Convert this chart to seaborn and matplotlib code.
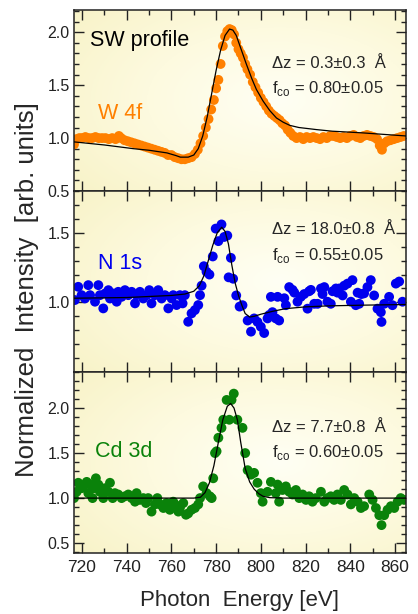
import numpy as np
import pandas as pd
import matplotlib
matplotlib.use("Agg")
import matplotlib.pyplot as plt
import seaborn as sns
from matplotlib.colors import LinearSegmentedColormap
from matplotlib.ticker import MultipleLocator, FixedLocator

# W 4f data (orange)
w4f_e = [716.4, 717.5, 718.8, 720.0, 721.5, 723.0, 724.5, 726.0, 727.5, 729.0,
         730.5, 732.0, 733.5, 735.0, 736.5, 737.5, 739.0, 740.5, 742.0, 743.5,
         745.0, 746.5, 748.0, 749.5, 751.0, 752.5, 754.0, 755.5, 757.0, 758.5,
         760.0, 761.5, 763.0, 764.5, 766.0, 767.5, 769.0, 770.5, 771.8, 773.0,
         774.2, 775.4, 776.6, 777.8, 779.0, 780.0, 781.0, 782.0, 783.0, 784.0,
         785.0, 786.0, 787.0, 788.0, 789.0, 790.0, 791.0, 792.0, 793.0, 794.0,
         795.2, 796.4, 797.6, 798.8, 800.0, 801.2, 802.4, 803.6, 804.8, 806.0,
         807.2, 808.4, 809.6, 810.8, 812.0, 813.2, 814.5, 816.0, 817.5, 819.0,
         820.5, 822.0, 823.5, 825.0, 826.5, 828.0, 829.5, 831.0, 832.5, 834.0,
         835.5, 837.0, 838.5, 840.0, 841.5, 843.0, 844.5, 846.0, 847.5, 849.0,
         850.5, 852.0, 853.2, 854.2, 855.2, 856.5, 858.0, 859.5, 861.0, 862.5,
         864.0]
w4f_i = [0.94, 0.99, 1.00, 1.00, 1.01, 1.00, 1.00, 1.01, 1.00, 1.00,
         1.00, 0.99, 1.00, 0.99, 1.02, 1.00, 0.98, 0.97, 0.96, 0.95,
         0.94, 0.93, 0.92, 0.91, 0.90, 0.89, 0.88, 0.87, 0.86, 0.84,
         0.84, 0.82, 0.81, 0.80, 0.80, 0.81, 0.82, 0.85, 0.89, 0.95,
         1.02, 1.10, 1.18, 1.27, 1.36, 1.47, 1.55, 1.70, 1.87, 1.96,
         2.01, 2.03, 2.02, 1.98, 1.90, 1.84, 1.80, 1.76, 1.70, 1.65,
         1.60, 1.53, 1.48, 1.43, 1.38, 1.34, 1.30, 1.26, 1.23, 1.21,
         1.19, 1.17, 1.14, 1.12, 1.08, 1.05, 1.02, 1.00, 1.01, 0.99,
         1.01, 1.00, 1.01, 1.00, 0.99, 1.01, 1.00, 1.02, 1.02, 1.01,
         1.00, 1.01, 1.00, 1.02, 1.03, 1.01, 1.00, 1.02, 1.03, 1.02,
         1.01, 0.99, 0.93, 0.89, 0.95, 0.97, 0.98, 0.99, 1.00, 1.01,
         1.02]
w4f_fit_e = [716, 730, 743, 750, 758, 762, 764, 767.5, 770, 772, 774, 776, 778,
             780, 782, 784, 786, 787.5, 789, 791, 793.5, 796, 798, 801, 804,
             807, 810, 813, 817, 825, 832, 845, 865]
w4f_fit_i = [0.965, 0.935, 0.90, 0.885, 0.86, 0.835, 0.82, 0.82, 0.84, 0.90,
             1.02, 1.20, 1.42, 1.64, 1.83, 1.97, 2.03, 2.02, 1.97, 1.85, 1.70,
             1.56, 1.46, 1.35, 1.26, 1.19, 1.15, 1.12, 1.10, 1.08, 1.065,
             1.05, 1.02]

# N 1s data (blue)
n1s_e = [716.8, 718.3, 719.8, 721.3, 722.8, 723.6, 725.8, 727.3, 728.0, 729.5,
         730.3, 731.8, 732.5, 734.0, 735.5, 736.2, 737.7, 739.2, 740.7, 742.2,
         743.7, 744.4, 745.9, 747.4, 748.9, 750.1, 751.1, 752.6, 754.1, 755.6,
         757.1, 758.6, 760.1, 760.8, 762.3, 763.8, 765.0, 766.0, 767.5, 769.0,
         770.5, 772.0, 772.8, 773.5, 774.5, 775.7, 777.0, 778.5, 779.8, 781.0,
         782.4, 783.6, 785.0, 785.6, 786.6, 787.6, 789.0, 790.5, 791.8, 794.1,
         795.6, 797.0, 798.5, 800.0, 801.5, 803.0, 803.8, 804.5, 805.2, 806.7,
         807.5, 808.2, 810.5, 811.2, 812.7, 814.2, 815.0, 816.4, 817.9, 819.4,
         820.9, 821.6, 822.4, 823.9, 825.4, 826.9, 827.6, 828.4, 829.8, 831.3,
         832.1, 833.6, 834.3, 835.1, 836.6, 837.3, 838.8, 840.3, 841.0, 842.5,
         843.3, 844.0, 845.0, 846.2, 847.7, 849.2, 850.7, 852.2, 853.7, 854.0,
         855.2, 857.4, 858.9, 860.4, 861.9, 863.4]
n1s_i = [1.017, 1.112, 1.052, 1.028, 1.124, 1.052, 1.005, 1.124, 1.052, 0.957,
         1.064, 1.088, 1.028, 1.064, 1.005, 1.076, 1.040, 1.088, 1.052, 1.076,
         0.993, 1.052, 1.076, 1.028, 1.052, 1.088, 0.993, 1.052, 1.088, 1.028,
         1.052, 0.957, 1.028, 1.052, 0.981, 1.052, 0.993, 1.052, 0.861, 0.921,
         0.945, 0.981, 1.052, 1.12, 1.26, 1.22, 1.20, 1.33, 1.53, 1.44,
         1.56, 1.47, 1.48, 1.18, 1.32, 1.17, 1.05, 0.97, 0.98, 0.87,
         0.79, 0.885, 0.86, 0.825, 0.78, 0.885, 0.91, 1.04, 0.93, 0.885,
         1.04, 0.87, 1.03, 0.98, 1.11, 1.09, 1.07, 1.005, 1.04, 1.06,
         0.955, 1.08, 1.09, 0.99, 0.99, 1.10, 1.06, 1.11, 1.005, 0.99,
         1.08, 1.10, 1.07, 1.10, 1.05, 1.12, 1.135, 1.005, 1.16, 0.98,
         1.07, 0.99, 1.06, 1.065, 1.11, 1.16, 1.05, 0.955, 0.93, 0.86,
         0.99, 1.04, 0.98, 1.135, 1.15, 1.005]
n1s_fit_e = [716, 740, 760, 766, 770, 772.5, 774.5, 776.5, 778.5, 780.5, 782.5,
             784, 785.5, 787, 788.5, 790, 791.5, 793, 795, 797, 800, 805, 811,
             820, 830, 845, 865]
n1s_fit_i = [1.03, 1.035, 1.05, 1.06, 1.08, 1.12, 1.19, 1.30, 1.41, 1.50, 1.54,
             1.51, 1.42, 1.27, 1.14, 1.05, 0.98, 0.92, 0.895, 0.90, 0.915,
             0.935, 0.955, 0.968, 0.975, 0.98, 0.985]

# Cd 3d data (green)
cd3d_e = [716.4, 717.6, 718.3, 719.8, 721.3, 722.1, 722.8, 723.6, 724.7, 725.3,
          726.2, 727.3, 728.0, 729.5, 730.3, 731.8, 732.5, 733.7, 734.7, 736.2,
          737.7, 739.2, 740.7, 742.2, 743.7, 744.4, 745.9, 747.4, 748.6, 749.6,
          751.1, 752.6, 753.7, 754.9, 756.4, 757.8, 759.3, 760.8, 761.6, 763.1,
          763.8, 765.3, 766.5, 767.5, 769.0, 770.5, 772.0, 772.8, 774.2, 775.7,
          777.2, 778.0, 778.7, 779.5, 780.2, 781.0, 782.4, 783.2, 784.7, 785.9,
          786.9, 787.9, 789.5, 791.8, 793.0, 794.1, 795.6, 797.0, 798.5, 800.0,
          800.8, 803.0, 804.5, 806.7, 807.5, 808.2, 809.7, 811.2, 812.7, 814.2,
          815.7, 817.2, 818.7, 820.2, 821.6, 823.1, 824.6, 826.9, 828.4, 829.8,
          831.3, 832.8, 834.3, 835.8, 837.3, 838.8, 840.3, 841.8, 843.3, 844.8,
          846.2, 848.5, 850.0, 851.5, 853.0, 854.0, 855.2, 856.7, 858.2, 859.7,
          861.2, 862.6, 864.1]
cd3d_i = [1.00, 1.07, 1.17, 1.11, 1.15, 1.18, 1.055, 1.15, 1.00, 1.11,
          1.22, 1.15, 1.07, 1.00, 1.11, 1.07, 1.17, 1.00, 1.055, 1.04,
          1.00, 1.02, 1.04, 1.00, 0.96, 1.055, 0.98, 1.00, 0.945, 1.00,
          0.85, 0.93, 1.00, 0.93, 0.89, 0.945, 0.87, 0.96, 0.93, 0.85,
          0.89, 0.945, 0.815, 0.83, 0.87, 0.89, 0.93, 1.00, 1.13, 1.055,
          1.02, 1.00, 1.22, 1.50, 1.52, 1.67, 1.78, 1.87, 2.09, 1.87,
          2.09, 2.16, 1.87, 1.78, 1.50, 1.31, 1.26, 1.28, 1.17, 1.055,
          0.96, 1.07, 1.18, 1.055, 1.15, 0.96, 1.09, 1.13, 1.07, 1.04,
          1.09, 1.00, 1.04, 0.98, 1.02, 0.96, 1.00, 1.07, 0.96, 1.00,
          1.02, 0.98, 1.04, 0.98, 1.09, 1.04, 0.93, 1.00, 0.96, 0.89,
          0.91, 1.04, 0.98, 0.89, 0.81, 0.70, 0.81, 0.87, 0.91, 0.89,
          0.96, 1.00, 0.98]
cd3d_fit_e = [716, 770, 773, 775, 777, 779, 781, 783, 785, 786.5, 788, 789.5,
              791, 793, 795, 797, 799, 801, 804, 810, 865]
cd3d_fit_i = [1.0, 1.0, 1.01, 1.06, 1.17, 1.36, 1.62, 1.87, 2.02, 2.05, 2.00,
              1.87, 1.62, 1.33, 1.18, 1.10, 1.05, 1.02, 1.005, 1.0, 1.0]

labels = ["W 4f", "N 1s", "Cd 3d"]
dz_text = ["\u0394z = 0.3\u00b10.3  \u00c5", "\u0394z = 18.0\u00b10.8  \u00c5",
           "\u0394z = 7.7\u00b10.8  \u00c5"]
fco_text = ["0.80\u00b10.05", "0.55\u00b10.05", "0.60\u00b10.05"]

sns.set_style("ticks")
plt.rcParams['font.family'] = ['Liberation Sans', 'DejaVu Sans']
plt.rcParams['mathtext.fontset'] = 'custom'
plt.rcParams['mathtext.rm'] = 'Liberation Sans'

fig = plt.figure(figsize=(4.18, 6.14), dpi=100)
left, width, h = 0.177, 0.794, 0.2948
bottoms = [0.6889, 0.3941, 0.0993]
axes = [fig.add_axes([left, b, width, h]) for b in bottoms]

# soft yellow backdrop, one per panel
bg_cmap = LinearSegmentedColormap.from_list("bg", ["#FFFFF4", "#FDFADF", "#F8F3C8"])
gx, gy = np.meshgrid(np.linspace(0, 1, 200), np.linspace(0, 1, 200))
grad = np.clip(np.sqrt(((gx - 0.62) / 0.8) ** 2 + ((gy - 0.5) / 0.8) ** 2), 0, 1)

panels = [
    (w4f_e, w4f_i, w4f_fit_e, w4f_fit_i, "#FF8000", (0.5, 2.21)),
    (n1s_e, n1s_i, n1s_fit_e, n1s_fit_i, "#0000EE", (0.5, 1.80)),
    (cd3d_e, cd3d_i, cd3d_fit_e, cd3d_fit_i, "#0A820A", (0.39, 2.40)),
]

for k, (ax, (ex, iy, fe, fi, col, ylim)) in enumerate(zip(axes, panels)):
    ax.set_facecolor("none")
    ax.imshow(grad, extent=[0, 1, 0, 1], transform=ax.transAxes, aspect="auto",
              cmap=bg_cmap, vmin=0, vmax=1, origin="lower", zorder=-10)
    pts = pd.DataFrame({"E": ex, "I": iy})
    fit = pd.DataFrame({"E": fe, "I": fi})
    sns.scatterplot(data=pts, x="E", y="I", ax=ax, color=col, s=50,
                    linewidth=0, edgecolor="none", zorder=2)
    sns.lineplot(data=fit, x="E", y="I", ax=ax, color="black", lw=0.9,
                 estimator=None, zorder=3)
    ax.set_xlim(716.4, 864.9)
    ax.set_ylim(*ylim)
    ax.set_xlabel("")
    ax.set_ylabel("")
    ax.xaxis.set_major_locator(MultipleLocator(20))
    ax.xaxis.set_minor_locator(MultipleLocator(10))
    if k == 1:
        ax.yaxis.set_major_locator(FixedLocator([0.5, 1.0, 1.5]))
    else:
        ax.yaxis.set_major_locator(MultipleLocator(0.5))
    ax.yaxis.set_minor_locator(MultipleLocator(0.1))
    ax.tick_params(which="both", direction="in", top=True, right=True,
                   width=1, colors="#222222")
    ax.tick_params(which="major", length=7)
    ax.tick_params(which="minor", length=3.5)
    ax.tick_params(axis="y", labelsize=11.5, pad=3)
    ax.tick_params(axis="x", labelsize=12.5, pad=5)
    if k < 2:
        ax.tick_params(axis="x", labelbottom=False)
    if k == 1:
        ax.set_yticklabels(["", "1.0", "1.5"])
    for sp in ax.spines.values():
        sp.set_linewidth(1.1)
        sp.set_color("#222222")

    ax.text(0.072 if k < 2 else 0.063, [0.43, 0.60, 0.56][k], labels[k],
            transform=ax.transAxes, color=col, fontsize=15.5, va="center")
    ax.text(0.596, [0.707, 0.785, 0.696][k], dz_text[k], transform=ax.transAxes,
            fontsize=12, va="center")
    ax.text(0.596, [0.569, 0.646, 0.558][k],
            "f$_{\\mathregular{co}}$ = " + fco_text[k], transform=ax.transAxes,
            fontsize=12, va="center")

axes[0].text(0.048, 0.83, "SW profile", transform=axes[0].transAxes,
             fontsize=15.5, va="center", color="black")

fig.text(0.574, 0.022, "Photon  Energy [eV]", ha="center", va="center",
         fontsize=16)
fig.text(0.064, 0.528, "Normalized  Intensity  [arb. units]", rotation=90,
         ha="center", va="center", fontsize=18.5)

fig.savefig("out.png", dpi=100)
